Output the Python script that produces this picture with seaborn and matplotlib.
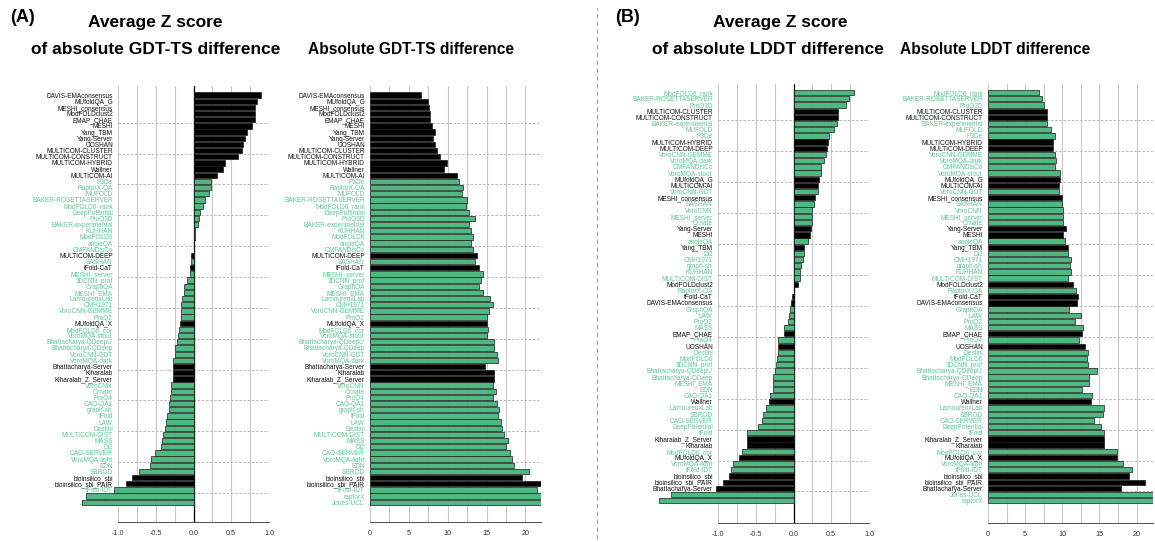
import matplotlib
matplotlib.use('Agg')
import matplotlib.pyplot as plt
from matplotlib.lines import Line2D
from matplotlib.ticker import MultipleLocator
import seaborn as sns

sns.set_style('white')
plt.rcParams['font.family'] = ['Liberation Sans', 'DejaVu Sans']
plt.rcParams['text.color'] = 'black'

GREEN = '#3ec97f'
GREEN_TXT = '#5cc993'

# groups drawn in black (everything else is green)
black_groups = [
    'DAVIS-EMAconsensus', 'MUfoldQA_G', 'MESHI_consensus', 'ModFOLDclust2', 'EMAP_CHAE',
    'MESHI', 'Yang_TBM', 'Yang-Server', 'UOSHAN', 'MULTICOM-CLUSTER', 'MULTICOM-CONSTRUCT',
    'MULTICOM-HYBRID', 'Wallner', 'MULTICOM-AI', 'MULTICOM-DEEP', 'tFold-CaT', 'MUfoldQA_X',
    'Bhattacharya-Server', 'Kiharalab', 'Kiharalab_Z_Server', 'bioinsilico_sbi',
    'bioinsilico_sbi_PAIR',
]

# (A) GDT-TS, ordered by average Z score
a_names = [
    'DAVIS-EMAconsensus', 'MUfoldQA_G', 'MESHI_consensus', 'ModFOLDclust2', 'EMAP_CHAE',
    'MESHI', 'Yang_TBM', 'Yang-Server', 'UOSHAN', 'MULTICOM-CLUSTER',
    'MULTICOM-CONSTRUCT', 'MULTICOM-HYBRID', 'Wallner', 'MULTICOM-AI', 'P3De',
    'RaptorX-QA', 'MUFOLD', 'BAKER-ROSETTASERVER', 'ModFOLD6_rank', 'DeepPotential',
    'ProQ3D', 'BAKER-experimental', 'KUHHAN', 'ModFOLD6', 'angleQA',
    'OMFANDisCo', 'MULTICOM-DEEP', 'SASHAN', 'tFold-CaT', 'MESHI_server',
    '3DCNN_prof', 'GraphQA', 'MESHI_EMA', 'LamoureuxLab', 'CMH1971',
    'VoroCNN-GEMME', 'ProQ2', 'MUfoldQA_X', 'ModFOLD6_cor', 'VoroMQA-stout',
    'Bhattacharya-QDeepU', 'Bhattacharya-QDeep', 'VoroCNN-GDT', 'VoroMQA-dark', 'Bhattacharya-Server',
    'Kiharalab', 'Kiharalab_Z_Server', 'VoroCNN', 'Ornate', 'ProQ4',
    'CAO-QA1', 'graph-sh', 'tFold', 'LAW', 'Destini',
    'MULTICOM-DIST', 'MASS', 'Di2', 'CAO-SERVER', 'VoroMQA-light',
    'EDN', 'SBROD', 'bioinsilico_sbi', 'bioinsilico_sbi_PAIR', 'tFold-IDT',
    'raptorX', 'Jones-UCL',
]
a_zscore = [
    0.90, 0.84, 0.82, 0.82, 0.81, 0.78, 0.71, 0.68, 0.66, 0.64,
    0.59, 0.42, 0.39, 0.31, 0.23, 0.23, 0.21, 0.15, 0.13, 0.09,
    0.075, 0.066, 0.02, 0.018, 0.013, 0.0, -0.03, -0.03, -0.045, -0.05,
    -0.085, -0.13, -0.13, -0.155, -0.165, -0.165, -0.165, -0.18, -0.19, -0.2,
    -0.22, -0.245, -0.25, -0.275, -0.275, -0.275, -0.275, -0.30, -0.30, -0.31,
    -0.32, -0.33, -0.35, -0.36, -0.375, -0.41, -0.42, -0.43, -0.51, -0.56,
    -0.575, -0.72, -0.81, -0.90, -1.05, -1.43, -1.48,
]
a_diff = [
    6.6, 7.4, 7.6, 7.7, 7.7, 8.0, 8.3, 8.1, 8.4, 8.6,
    9.0, 9.9, 9.5, 11.2, 11.5, 12.0, 11.8, 12.5, 12.3, 12.8,
    13.5, 12.8, 13.0, 13.3, 13.0, 13.2, 13.8, 13.5, 14.0, 14.5,
    14.3, 14.0, 14.5, 15.5, 15.8, 15.3, 15.0, 15.0, 15.2, 15.0,
    16.0, 16.0, 16.3, 16.5, 14.8, 16.0, 16.0, 15.8, 16.2, 15.8,
    16.3, 16.6, 16.5, 16.8, 17.0, 17.2, 17.8, 17.5, 18.0, 18.3,
    18.5, 20.5, 19.5, 22.0, 21.5, 23.0, 23.0,
]

# (B) LDDT, ordered by average Z score
b_names = [
    'ModFOLD6_rank', 'BAKER-ROSETTASERVER', 'ProQ3D', 'MULTICOM-CLUSTER', 'MULTICOM-CONSTRUCT',
    'BAKER-experimental', 'MUFOLD', 'P3De', 'MULTICOM-HYBRID', 'MULTICOM-DEEP',
    'VoroCNN-GEMME', 'VoroMQA-dark', 'OMFANDisCo', 'VoroMQA-stout', 'MUfoldQA_G',
    'MULTICOM-AI', 'VoroCNN-GDT', 'MESHI_consensus', 'SASHAN', 'VoroCNN',
    'MESHI_server', 'Ornate', 'Yang-Server', 'MESHI', 'angleQA',
    'Yang_TBM', 'Di2', 'CMH1971', 'graph-sh', 'KUHHAN',
    'MULTICOM-DIST', 'ModFOLDclust2', 'RaptorX-QA', 'tFold-CaT', 'DAVIS-EMAconsensus',
    'GraphQA', 'LAW', 'ProQ2', 'MASS', 'EMAP_CHAE',
    'ProQ4', 'UOSHAN', 'Destini', 'ModFOLD6', '3DCNN_prof',
    'Bhattacharya-QDeepU', 'Bhattacharya-QDeep', 'MESHI_EMA', 'EDN', 'CAO-QA1',
    'Wallner', 'LamoureuxLab', 'SBROD', 'CAO-SERVER', 'DeepPotential',
    'tFold', 'Kiharalab_Z_Server', 'Kiharalab', 'ModFOLD6_cor', 'MUfoldQA_X',
    'VoroMQA-light', 'tFold-IDT', 'bioinsilico_sbi', 'bioinsilico_sbi_PAIR', 'Bhattacharya-Server',
    'Jones-UCL', 'raptorX',
]
b_zscore = [
    0.80, 0.73, 0.70, 0.59, 0.59, 0.575, 0.54, 0.47, 0.455, 0.44,
    0.425, 0.40, 0.37, 0.36, 0.34, 0.33, 0.32, 0.29, 0.265, 0.25,
    0.25, 0.245, 0.235, 0.225, 0.19, 0.145, 0.145, 0.125, 0.10, 0.09,
    0.08, 0.06, 0.005, -0.02, -0.027, -0.04, -0.053, -0.07, -0.125, -0.13,
    -0.2, -0.2, -0.2, -0.217, -0.235, -0.25, -0.265, -0.265, -0.265, -0.31,
    -0.33, -0.37, -0.40, -0.42, -0.47, -0.62, -0.62, -0.62, -0.686, -0.717,
    -0.80, -0.83, -0.86, -0.94, -1.02, -1.62, -1.78,
]
b_diff = [
    6.8, 7.25, 7.55, 8.0, 8.0, 7.9, 8.45, 9.0, 8.8, 8.8,
    9.05, 9.2, 9.05, 9.7, 9.75, 9.5, 9.6, 9.9, 10.0, 10.05,
    10.05, 10.05, 10.5, 10.05, 10.4, 10.8, 10.7, 11.15, 11.05, 11.15,
    10.75, 11.45, 11.8, 12.05, 11.95, 10.85, 12.5, 11.7, 12.75, 12.65,
    12.2, 13.0, 13.4, 13.3, 13.4, 14.7, 13.55, 13.65, 12.6, 13.95,
    13.8, 15.65, 15.5, 14.2, 15.2, 15.65, 15.6, 15.6, 17.4, 17.4,
    18.2, 19.4, 19.0, 21.1, 17.85, 23.0, 23.0,
]

W, H = 1155, 542


def px_rect(x0, x1, top, bottom):
    """axes rectangle from pixel coordinates of the reference"""
    return [x0 / W, (H - bottom) / H, (x1 - x0) / W, (bottom - top) / H]


def draw_panel(ax, names, values, xlim, xticks, xticklabels, grid_step, zscore_panel, ylim):
    groups = ['black' if n in black_groups else 'green' for n in names]
    sns.barplot(x=values, y=names, hue=groups, palette={'black': 'black', 'green': GREEN},
                dodge=False, legend=False, orient='h', width=0.86,
                edgecolor='#1a1a1a', linewidth=0.5, zorder=3, ax=ax)
    ax.set_axisbelow(True)
    if zscore_panel:
        for p in ax.patches:
            p.set_clip_on(False)
        ax.axvline(0, color='black', lw=0.9, zorder=2.8)

    ax.set_xlim(*xlim)
    ax.set_ylim(*ylim)
    ax.set_xticks(xticks)
    ax.set_xticklabels(xticklabels, fontsize=5.2, color='#333333')
    ax.xaxis.set_minor_locator(MultipleLocator(grid_step))
    ax.grid(which='both', axis='x', color='#c8c8c8', lw=0.8)
    ax.grid(which='both', axis='y', visible=False)
    for k in range(5, len(names), 5):
        ax.axhline(k - 0.5, color='#b0b0b0', lw=0.6, ls=(0, (3, 2)), zorder=0.7)

    ax.set_yticks(range(len(names)))
    ax.set_yticklabels(names, fontsize=4.7)
    for lab, g in zip(ax.get_yticklabels(), groups):
        lab.set_color('#111111' if g == 'black' else GREEN_TXT)
    ax.tick_params(axis='y', length=2.2, width=0.5, pad=1.5, color='#555555')
    ax.tick_params(axis='x', which='major', length=2.5, width=0.5, pad=3, color='#333333')
    ax.tick_params(axis='x', which='minor', length=0)

    for side in ['top', 'right', 'left']:
        ax.spines[side].set_visible(False)
    ax.spines['bottom'].set_linewidth(0.6)
    ax.spines['bottom'].set_color('#333333')
    ax.set_xlabel('')
    ax.set_ylabel('')


fig = plt.figure(figsize=(W / 100, H / 100), dpi=100)

z_ticks = [-1.0, -0.5, 0.0, 0.5, 1.0]
z_labels = ['-1.0', '-0.5', '0.0', '0.5', '1.0']
d_ticks = [0, 5, 10, 15, 20]
d_labels = ['0', '5', '10', '15', '20']

ax1 = fig.add_axes(px_rect(118, 269, 86, 522))
draw_panel(ax1, a_names, a_zscore, (-1.0, 1.0), z_ticks, z_labels, 0.25, True, (69.2, -1.46))

ax2 = fig.add_axes(px_rect(370, 541, 86, 522))
draw_panel(ax2, a_names, a_diff, (0, 22), d_ticks, d_labels, 2.5, False, (69.2, -1.46))

ax3 = fig.add_axes(px_rect(718, 869, 84, 523))
draw_panel(ax3, b_names, b_zscore, (-1.0, 1.0), z_ticks, z_labels, 0.25, True, (69.6, -1.4))

ax4 = fig.add_axes(px_rect(988, 1153, 84, 523))
draw_panel(ax4, b_names, b_diff, (0, 22.2), d_ticks, d_labels, 2.5, False, (69.6, -1.4))

# titles
title_kw = dict(fontsize=12.5, fontweight='bold', ha='center', va='center', color='black')
side_kw = dict(fontsize=11.2, fontweight='bold', ha='center', va='center', color='black')
fig.text(22 / W, 1 - 18 / H, '(A)', fontsize=13, fontweight='bold', ha='center', va='center')
fig.text(155 / W, 1 - 22 / H, 'Average Z score', **title_kw)
fig.text(156 / W, 1 - 50 / H, 'of absolute GDT-TS difference', **title_kw)
fig.text(411 / W, 1 - 50 / H, 'Absolute GDT-TS difference', **side_kw)

fig.text(627 / W, 1 - 18 / H, '(B)', fontsize=13, fontweight='bold', ha='center', va='center')
fig.text(780 / W, 1 - 22 / H, 'Average Z score', **title_kw)
fig.text(768 / W, 1 - 50 / H, 'of absolute LDDT difference', **title_kw)
fig.text(995 / W, 1 - 50 / H, 'Absolute LDDT difference', **side_kw)

# panel separator
fig.add_artist(Line2D([597 / W, 597 / W], [0.005, 0.985], transform=fig.transFigure,
                      ls=(0, (4, 3)), color='#a0a0a0', lw=0.8))

fig.savefig('out.png', dpi=100)
